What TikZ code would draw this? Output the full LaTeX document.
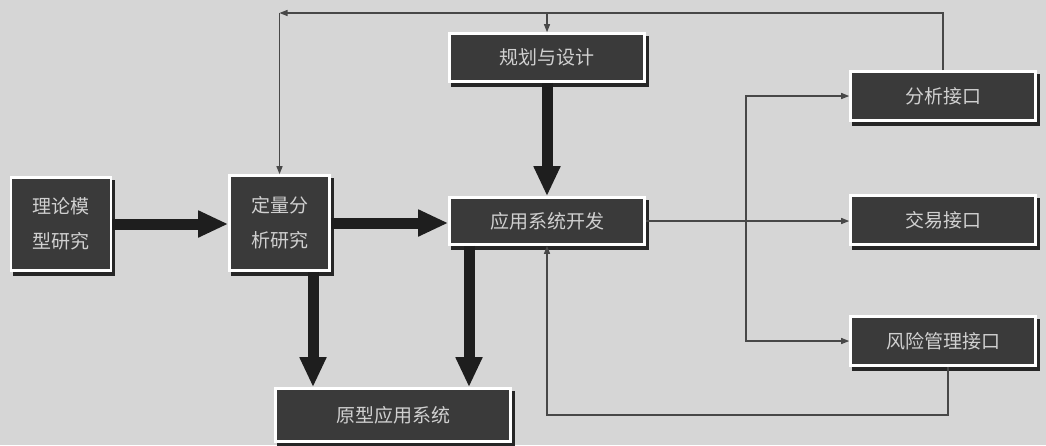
\documentclass[tikz,border=0pt]{standalone}
\usepackage{fontspec}
\newfontfamily\cjk{Noto Sans CJK SC}
\usetikzlibrary{arrows.meta,shadows}
\definecolor{bg}{RGB}{214,214,214}
\definecolor{boxfill}{RGB}{58,58,58}
\definecolor{boxtext}{RGB}{208,208,208}
\definecolor{linec}{RGB}{72,72,72}
\definecolor{thickc}{RGB}{30,30,30}
\begin{document}
\begin{tikzpicture}[x=1pt,y=-1pt,
  box/.style={draw=white, line width=2.6pt, fill=boxfill, text=boxtext,
    font=\cjk\fontsize{19}{35}\selectfont, align=center, inner sep=0pt,
    drop shadow={shadow xshift=3pt, shadow yshift=-4pt, fill=black!85, draw=black!85, line width=2.6pt, opacity=1}},
  thickarrow/.style={line width=11pt, color=thickc, -{Triangle[length=30pt,width=25pt]}},
  thinline/.style={line width=1.2pt, color=linec},
  thinarrow/.style={thinline, -{Triangle[length=8pt,width=6pt]}}
]
\useasboundingbox (0,0) rectangle (1046,445);
\fill[bg] (0,0) rectangle (1046,445);

\node[box, minimum width=100pt, minimum height=93pt] (theory) at (61,224) {理论模\\型研究};
\node[box, minimum width=100pt, minimum height=95pt] (quant) at (279.5,223) {定量分\\析研究};
\node[box, minimum width=195pt, minimum height=48pt] (plan) at (547,57.5) {规划与设计};
\node[box, minimum width=195pt, minimum height=47pt] (app) at (547,221) {应用系统开发};
\node[box, minimum width=235pt, minimum height=53pt] (proto) at (393,415) {原型应用系统};
\node[box, minimum width=185pt, minimum height=49pt] (ana) at (943,96) {分析接口};
\node[box, minimum width=185pt, minimum height=49pt] (trade) at (943,220) {交易接口};
\node[box, minimum width=185pt, minimum height=49pt] (risk) at (943,341) {风险管理接口};

% thick arrows
\draw[thickarrow] (theory.east) -- (theory.east -| quant.west);
\draw[thickarrow] (quant.east) -- (quant.east -| app.west);
\draw[thickarrow] (plan.south) -- (app.north);
\draw[thickarrow] ([xshift=33.5pt]quant.south) -- ([xshift=33.5pt]quant.south |- proto.north);
\draw[thickarrow] ([xshift=-78pt]app.south) -- ([xshift=-78pt]app.south |- proto.north);

% feedback at top
\coordinate (fbL) at (279.5,13);
\draw[thinarrow] (ana.north) |- (fbL);
\draw[thinarrow] (fbL) -- (fbL |- quant.north);
\draw[thinarrow] (plan.north |- fbL) -- (plan.north);

% to interfaces
\draw[thinarrow] (app.east) -- (app.east -| trade.west);
\coordinate (jx) at (746,220);
\draw[thinarrow] (jx) |- (ana.west);
\draw[thinarrow] (jx) |- (risk.west);

% bottom loop
\coordinate (lb) at (0,415);
\draw[thinarrow] ([xshift=5pt]risk.south) -- ([xshift=5pt]risk.south |- lb) -| (app.south);
\end{tikzpicture}
\end{document}
